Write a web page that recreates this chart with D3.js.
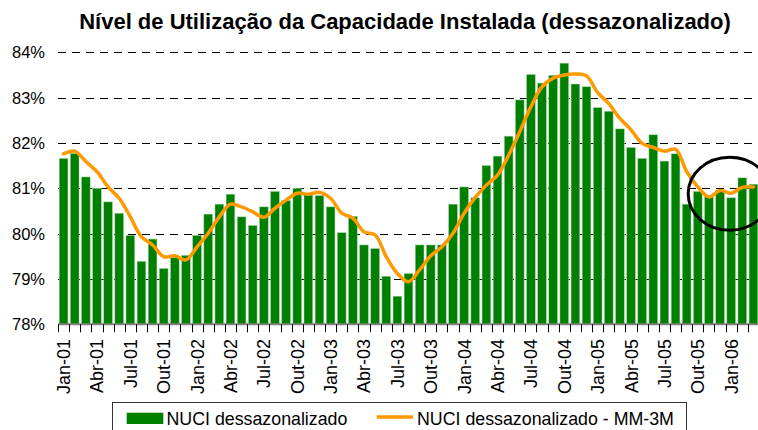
<!DOCTYPE html>
<html>
<head>
<meta charset="utf-8">
<script src="https://cdn.jsdelivr.net/npm/d3@7"></script>
<style>
  body { margin: 0; background: #fff; }
  svg { display: block; font-family: "Liberation Sans", Arial, sans-serif; }
</style>
</head>
<body>
<div id="chart"></div>
<script>
// months Jan-01 .. Mar-06
const months = [
  'Jan-01','Fev-01','Mar-01','Abr-01','Mai-01','Jun-01','Jul-01','Ago-01','Set-01','Out-01','Nov-01','Dez-01',
  'Jan-02','Fev-02','Mar-02','Abr-02','Mai-02','Jun-02','Jul-02','Ago-02','Set-02','Out-02','Nov-02','Dez-02',
  'Jan-03','Fev-03','Mar-03','Abr-03','Mai-03','Jun-03','Jul-03','Ago-03','Set-03','Out-03','Nov-03','Dez-03',
  'Jan-04','Fev-04','Mar-04','Abr-04','Mai-04','Jun-04','Jul-04','Ago-04','Set-04','Out-04','Nov-04','Dez-04',
  'Jan-05','Fev-05','Mar-05','Abr-05','Mai-05','Jun-05','Jul-05','Ago-05','Set-05','Out-05','Nov-05','Dez-05',
  'Jan-06','Fev-06','Mar-06'
];

const tickLabels = [
  'Jan-01','Abr-01','Jul-01','Out-01','Jan-02','Abr-02','Jul-02','Out-02',
  'Jan-03','Abr-03','Jul-03','Out-03','Jan-04','Abr-04','Jul-04','Out-04',
  'Jan-05','Abr-05','Jul-05','Out-05','Jan-06'
];

// NUCI dessazonalizado (%)
const nuci = [
  81.66, 81.77, 81.25, 81.00, 80.70, 80.45, 79.96, 79.39, 79.88, 79.23, 79.47, 79.52,
  79.96, 80.43, 80.65, 80.87, 80.37, 80.18, 80.59, 80.93, 80.73, 81.00, 80.87, 80.84,
  80.59, 80.02, 80.38, 79.75, 79.67, 79.06, 78.62, 79.12, 79.75, 79.75, 79.75, 80.65,
  81.03, 80.79, 81.50, 81.71, 82.15, 82.95, 83.51, 83.32, 83.49, 83.76, 83.30, 83.24,
  82.78, 82.70, 82.31, 81.90, 81.66, 82.18, 81.60, 81.76, 80.65, 80.93, 80.81, 80.96,
  80.79, 81.23, 81.09
];

// NUCI dessazonalizado - MM-3M (%)
const nuciMM3 = [
  81.76, 81.82, 81.59, 81.37, 81.03, 80.78, 80.37, 79.93, 79.75, 79.49, 79.51, 79.42,
  79.71, 80.01, 80.37, 80.65, 80.59, 80.48, 80.36, 80.56, 80.74, 80.89, 80.87, 80.91,
  80.78, 80.45, 80.34, 80.04, 79.97, 79.49, 79.12, 78.94, 79.20, 79.51, 79.71, 80.01,
  80.45, 80.80, 81.07, 81.29, 81.73, 82.25, 82.80, 83.24, 83.43, 83.50, 83.52, 83.48,
  83.11, 82.87, 82.54, 82.29, 81.99, 81.90, 81.82, 81.86, 81.37, 81.03, 80.81, 80.95,
  80.89, 81.02, 81.03
];

const yTicks = [78, 79, 80, 81, 82, 83, 84];

const width = 758;
const height = 430;

const svg = d3.select('#chart').append('svg')
    .attr('width', width)
    .attr('height', height);

// scales
const x = d3.scaleBand()
    .domain(months)
    .range([58, 759])
    .paddingInner(0.22)
    .paddingOuter(0.11);

const y = d3.scaleLinear()
    .domain([78, 84])
    .range([324.3, 52.3]);

// title
svg.append('text')
    .attr('x', 405)
    .attr('y', 29)
    .attr('text-anchor', 'middle')
    .style('font-size', '22px')
    .style('font-weight', 'bold')
    .text('Nível de Utilização da Capacidade Instalada (dessazonalizado)');

// dashed gridlines
svg.selectAll('.grid')
    .data(yTicks.filter(d => d > 78))
    .enter().append('line')
    .attr('class', 'grid')
    .attr('x1', 58)
    .attr('x2', 759)
    .attr('y1', d => Math.round(y(d)) + 0.5)
    .attr('y2', d => Math.round(y(d)) + 0.5)
    .attr('stroke', '#000')
    .attr('stroke-width', 1)
    .attr('stroke-dasharray', '8,6');

// y labels
svg.selectAll('.ylab')
    .data(yTicks)
    .enter().append('text')
    .attr('class', 'ylab')
    .attr('x', 45)
    .attr('y', d => y(d))
    .attr('dy', '0.36em')
    .attr('text-anchor', 'end')
    .style('font-size', '16.5px')
    .text(d => d + '%');

// bars
svg.selectAll('.bar')
    .data(nuci)
    .enter().append('rect')
    .attr('class', 'bar')
    .attr('x', (d, i) => x(months[i]))
    .attr('y', d => y(d))
    .attr('width', x.bandwidth())
    .attr('height', d => y(78) - y(d))
    .style('fill', '#008000')
    .style('stroke', '#9fcf9f')
    .style('stroke-width', 0.5);

// x axis line + ticks at month boundaries
const boundary = i => x.range()[0] + i * x.step();
svg.append('line')
    .attr('x1', 58)
    .attr('x2', 759)
    .attr('y1', y(78))
    .attr('y2', y(78))
    .attr('stroke', '#808080')
    .attr('stroke-width', 2);

svg.selectAll('.tick')
    .data(d3.range(months.length + 1))
    .enter().append('line')
    .attr('class', 'tick')
    .attr('x1', i => Math.round(boundary(i)) + 0.5)
    .attr('x2', i => Math.round(boundary(i)) + 0.5)
    .attr('y1', y(78))
    .attr('y2', y(78) + 8)
    .attr('stroke', '#000')
    .attr('stroke-width', 1);

// x labels (rotated)
svg.selectAll('.xlab')
    .data(tickLabels)
    .enter().append('text')
    .attr('class', 'xlab')
    .attr('transform', d => 'translate(' + (x(d) + x.bandwidth() / 2) + ',339) rotate(-90)')
    .attr('dy', '0.36em')
    .attr('text-anchor', 'end')
    .style('font-size', '18px')
    .text(d => d);

// moving average line
const line = d3.line()
    .x((d, i) => x(months[i]) + x.bandwidth() / 2)
    .y(d => y(d))
    .curve(d3.curveCatmullRom.alpha(0.5));

svg.append('path')
    .datum(nuciMM3)
    .attr('d', line)
    .attr('fill', 'none')
    .attr('stroke', '#FF9900')
    .attr('stroke-width', 3.5)
    .attr('stroke-linejoin', 'round')
    .attr('stroke-linecap', 'round');

// annotation ellipse around recent months
svg.append('ellipse')
    .attr('cx', x('Jan-06') + x.bandwidth() / 2 - 1.5)
    .attr('cy', y(80.88))
    .attr('rx', 41.5)
    .attr('ry', 36.5)
    .attr('fill', 'none')
    .attr('stroke', '#000')
    .attr('stroke-width', 3);

// legend
const legend = svg.append('g');
legend.append('rect')
    .attr('x', 112.5)
    .attr('y', 402.5)
    .attr('width', 574)
    .attr('height', 40)
    .attr('fill', '#fff')
    .attr('stroke', '#333')
    .attr('stroke-width', 1);

legend.append('rect')
    .attr('x', 126.7)
    .attr('y', 412.7)
    .attr('width', 36.6)
    .attr('height', 11.3)
    .attr('fill', '#008000');

legend.append('text')
    .attr('x', 166.5)
    .attr('y', 424.5)
    .style('font-size', '17.8px')
    .text('NUCI dessazonalizado');

legend.append('line')
    .attr('x1', 376.7)
    .attr('x2', 413)
    .attr('y1', 417)
    .attr('y2', 417)
    .attr('stroke', '#FF9900')
    .attr('stroke-width', 3.5);

legend.append('text')
    .attr('x', 417)
    .attr('y', 424.5)
    .style('font-size', '17.8px')
    .text('NUCI dessazonalizado - MM-3M');
</script>
</body>
</html>
